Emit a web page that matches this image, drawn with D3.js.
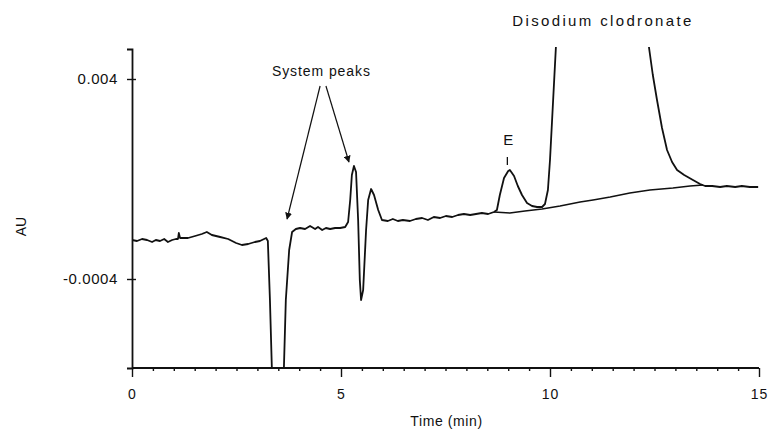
<!DOCTYPE html>
<html>
<head>
<meta charset="utf-8">
<script src="https://cdn.jsdelivr.net/npm/d3@7"></script>
<style>
    body { margin: 0; background: #fff; }
    text { font-family: "Liberation Sans", "DejaVu Sans", sans-serif; fill: #111; }
</style>
</head>
<body>
<div id="chart"></div>
<script>
// time in min, absorbance in units of 1e-4 AU
var traceTime = [0, 0.12, 0.24, 0.36, 0.48, 0.57, 0.67, 0.77, 0.86, 0.96, 1.05, 1.10, 1.12, 1.15,
    1.34, 1.51, 1.67, 1.79, 1.91, 2.11, 2.30, 2.49, 2.63, 2.78, 2.94, 3.06, 3.16, 3.21, 3.25, 3.30,
    3.37, 3.61, 3.68, 3.76, 3.83, 3.92, 4.02, 4.14, 4.26, 4.38, 4.45, 4.55, 4.64, 4.74, 4.86, 4.98,
    5.10, 5.17, 5.22, 5.26, 5.31, 5.36, 5.41, 5.45, 5.48, 5.53, 5.60, 5.65, 5.72, 5.79, 5.89, 5.98,
    6.12, 6.24, 6.36, 6.48, 6.65, 6.79, 6.94, 7.08, 7.22, 7.37, 7.51, 7.66, 7.80, 7.94, 8.09, 8.23,
    8.37, 8.52, 8.66, 8.73, 8.80, 8.90, 9.00, 9.04, 9.14, 9.23, 9.33, 9.45, 9.57, 9.69, 9.81, 9.88,
    9.95, 10.00, 10.05, 10.10, 10.14, 10.19, 11.2, 12.30, 12.37, 12.46, 12.56, 12.68, 12.80, 12.92,
    13.04, 13.21, 13.42, 13.59, 13.71, 13.88, 14.07, 14.23, 14.43, 14.59, 14.78, 14.98];
var traceAU = [-2.44, -2.48, -2.40, -2.44, -2.52, -2.44, -2.48, -2.40, -2.52, -2.44, -2.40, -2.40, -2.16, -2.36,
    -2.36, -2.28, -2.20, -2.12, -2.24, -2.32, -2.40, -2.56, -2.64, -2.60, -2.52, -2.48, -2.40, -2.36, -2.48, -4.84,
    -9, -9, -4.84, -2.84, -2.12, -2.00, -1.96, -2.00, -1.88, -2.00, -1.92, -2.04, -1.96, -2.00, -1.96, -1.96,
    -1.92, -1.72, -0.84, 0.16, 0.52, 0.28, -1.64, -4.04, -4.84, -4.44, -2.04, -0.84, -0.40, -0.64, -1.24, -1.64,
    -1.68, -1.60, -1.68, -1.64, -1.68, -1.60, -1.56, -1.64, -1.52, -1.56, -1.48, -1.52, -1.44, -1.40, -1.44, -1.40,
    -1.36, -1.40, -1.32, -1.24, -0.64, 0.04, 0.32, 0.36, 0.12, -0.28, -0.64, -0.96, -1.08, -1.12, -1.12, -1.00,
    -0.44, 0.76, 2.36, 3.96, 5.24, 6.76, 20, 6.76, 5.24, 4.16, 3.16, 2.04, 1.16, 0.68,
    0.36, 0.16, -0.04, -0.20, -0.28, -0.28, -0.32, -0.28, -0.32, -0.28, -0.32, -0.32];

// drawn baseline under peak E and the clodronate peak
var baseTime = [8.66, 9.04, 9.40, 9.81, 10.24, 10.72, 11.03, 11.44, 11.91, 12.39, 12.94, 13.35, 13.66];
var baseAU = [-1.32, -1.36, -1.28, -1.20, -1.08, -0.92, -0.84, -0.72, -0.56, -0.44, -0.36, -0.28, -0.24];

var xMajorTicks = [0, 5, 10, 15];
var xTickLabels = ["0", "5", "10", "15"];
var yTicks = [4, -4];
var yTickLabels = ["0.004", "-0.0004"];

function init() {
    var width = 769;
    var height = 437;

    var svg = d3.select("#chart")
        .append("svg")
        .attr("width", width)
        .attr("height", height);

    var xScale = d3.scaleLinear().domain([0, 15]).range([132, 759]);
    var yScale = d3.scaleLinear().domain([-7.56, 5.2]).range([368, 49]);

    svg.append("clipPath")
        .attr("id", "plotClip")
        .append("rect")
        .attr("x", 132)
        .attr("y", 47)
        .attr("width", 630)
        .attr("height", 322);

    var line = d3.line()
        .x(function(d) { return xScale(d[0]); })
        .y(function(d) { return yScale(d[1]); });

    var trace = traceTime.map(function(t, i) { return [t, traceAU[i]]; });
    var base = baseTime.map(function(t, i) { return [t, baseAU[i]]; });

    // chromatogram trace
    svg.append("path")
        .datum(trace)
        .attr("clip-path", "url(#plotClip)")
        .attr("d", line)
        .attr("fill", "none")
        .attr("stroke", "#111")
        .attr("stroke-width", 1.8)
        .attr("stroke-linejoin", "round");

    svg.append("path")
        .datum(base)
        .attr("d", line)
        .attr("fill", "none")
        .attr("stroke", "#111")
        .attr("stroke-width", 1.5);

    // x axis: major and minor ticks
    var xAxis = d3.axisBottom(xScale)
        .tickValues(xMajorTicks)
        .tickSize(9)
        .tickPadding(12)
        .tickFormat(function(d, i) { return xTickLabels[i]; });
    var gx = svg.append("g")
        .attr("transform", "translate(0," + yScale(-7.56) + ")")
        .call(xAxis);

    var xMinor = d3.axisBottom(xScale)
        .tickValues(d3.range(0.5, 15, 0.5).filter(function(v) { return v % 5 !== 0; }))
        .tickSize(3)
        .tickFormat("");
    svg.append("g")
        .attr("transform", "translate(0," + yScale(-7.56) + ")")
        .call(xMinor)
        .select(".domain").remove();

    // y axis
    var yAxis = d3.axisLeft(yScale)
        .tickValues(yTicks)
        .tickSize(5)
        .tickPadding(9)
        .tickFormat(function(d, i) { return yTickLabels[i]; });
    var gy = svg.append("g")
        .attr("transform", "translate(" + xScale(0) + ",0)")
        .call(yAxis);
    gy.selectAll(".tick line").attr("x2", -5).attr("x1", 4);

    svg.selectAll(".domain")
        .attr("stroke", "#111")
        .attr("stroke-width", 1.8);
    gx.select(".domain").attr("d", "M" + xScale(0) + ",0H" + xScale(15));
    svg.selectAll(".tick line").attr("stroke", "#111").attr("stroke-width", 1.4);
    svg.selectAll(".tick text")
        .attr("font-size", 14)
        .attr("letter-spacing", 1)
        .attr("fill", "#111");
    gy.selectAll(".tick text").attr("font-size", 15).attr("letter-spacing", 0.6);

    // axis titles
    svg.append("text")
        .attr("x", (xScale(0) + xScale(15)) / 2 + 1)
        .attr("y", 426)
        .attr("text-anchor", "middle")
        .attr("font-size", 14)
        .attr("letter-spacing", 0.6)
        .text("Time (min)");

    svg.append("text")
        .attr("transform", "translate(26," + yScale(-1.9) + ") rotate(-90)")
        .attr("text-anchor", "middle")
        .attr("font-size", 14)
        .text("AU");

    // annotations
    svg.append("defs").append("marker")
        .attr("id", "arrow")
        .attr("viewBox", "0 0 10 10")
        .attr("refX", 9)
        .attr("refY", 5)
        .attr("markerWidth", 7)
        .attr("markerHeight", 7)
        .attr("markerUnits", "userSpaceOnUse")
        .attr("orient", "auto")
        .append("path")
        .attr("d", "M0,0L10,5L0,10z")
        .attr("fill", "#111");

    var arrows = [
        [[4.50, 3.72], [3.71, -1.60]],
        [[4.64, 3.72], [5.19, 0.68]]
    ];
    svg.selectAll(".arrow")
        .data(arrows)
        .enter()
        .append("line")
        .attr("class", "arrow")
        .attr("x1", function(d) { return xScale(d[0][0]); })
        .attr("y1", function(d) { return yScale(d[0][1]); })
        .attr("x2", function(d) { return xScale(d[1][0]); })
        .attr("y2", function(d) { return yScale(d[1][1]); })
        .attr("stroke", "#111")
        .attr("stroke-width", 1.2)
        .attr("marker-end", "url(#arrow)");

    svg.append("text")
        .attr("x", xScale(4.52))
        .attr("y", yScale(4.12))
        .attr("text-anchor", "middle")
        .attr("font-size", 14)
        .attr("textLength", 98)
        .text("System peaks");

    svg.append("text")
        .attr("x", xScale(9.0))
        .attr("y", yScale(1.36))
        .attr("text-anchor", "middle")
        .attr("font-size", 15)
        .text("E");

    svg.append("line")
        .attr("x1", xScale(8.98))
        .attr("x2", xScale(8.98))
        .attr("y1", yScale(0.88))
        .attr("y2", yScale(0.56))
        .attr("stroke", "#111")
        .attr("stroke-width", 1.3);

    svg.append("text")
        .attr("x", xScale(11.24))
        .attr("y", yScale(6.12))
        .attr("text-anchor", "middle")
        .attr("font-size", 15)
        .attr("textLength", 179)
        .text("Disodium clodronate");
}

window.onload = init;
</script>
</body>
</html>
